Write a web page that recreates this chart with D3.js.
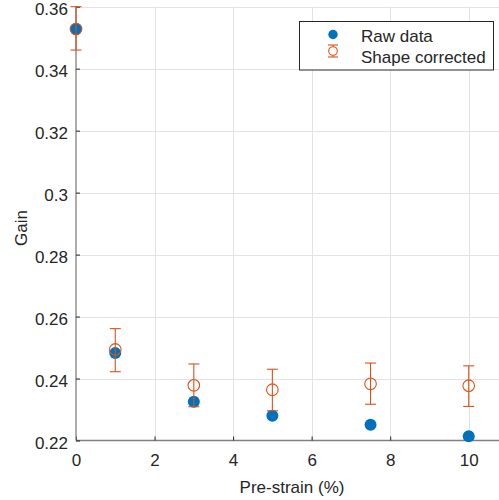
<!DOCTYPE html>
<html>
<head>
<meta charset="utf-8">
<script src="https://cdn.jsdelivr.net/npm/d3@7"></script>
<style>
html,body{margin:0;padding:0;background:#fff;}
svg{display:block;}
text{font-family:"Liberation Sans",Arial,Helvetica,sans-serif;fill:#262626;}
</style>
</head>
<body>
<svg id="chart" width="499" height="500"></svg>
<script>
const strain = [0, 1, 3, 5, 7.5, 10];
const rawGain = [0.3528, 0.2482, 0.2325, 0.2280, 0.2251, 0.2214];
const corrGain = [0.3528, 0.2494, 0.2378, 0.2364, 0.2383, 0.2377];
const corrLow = [0.3460, 0.2422, 0.2309, 0.2296, 0.2317, 0.2310];
const corrHigh = [0.3600, 0.2561, 0.2447, 0.2430, 0.2450, 0.2441];
const xTicks = [0, 2, 4, 6, 8, 10];
const yTicks = [0.22, 0.24, 0.26, 0.28, 0.30, 0.32, 0.34, 0.36];
const yTickLabels = ["0.22", "0.24", "0.26", "0.28", "0.3", "0.32", "0.34", "0.36"];
const seriesNames = ["Raw data", "Shape corrected"];

const blue = "#0072BD", orange = "#D95319";
const FS = 17;
const svg = d3.select("#chart");
const L = 76, R = 508, T = 6.7, B = 440.5;
const x = d3.scaleLinear().domain([0, 11]).range([L, R]);
const y = d3.scaleLinear().domain([0.22, 0.36]).range([B, T]);

// grid
const g = svg.append("g");
g.selectAll(".vg").data(xTicks.filter(d => d > 0)).enter().append("line")
  .attr("x1", d => Math.round(x(d)) + 0.5).attr("x2", d => Math.round(x(d)) + 0.5)
  .attr("y1", T).attr("y2", B).attr("stroke", "#e3e3e3").attr("stroke-width", 1);
g.selectAll(".hg").data(yTicks.filter(d => d > 0.22)).enter().append("line")
  .attr("x1", L).attr("x2", R)
  .attr("y1", d => Math.round(y(d)) + 0.5).attr("y2", d => Math.round(y(d)) + 0.5)
  .attr("stroke", "#e3e3e3").attr("stroke-width", 1);

// axes
const xAxis = d3.axisBottom(x).tickValues(xTicks).tickSize(-4).tickPadding(13).tickFormat(d3.format("d"));
const yAxis = d3.axisLeft(y).tickValues(yTicks).tickSize(-4).tickPadding(8).tickFormat((d, i) => yTickLabels[i]);
const xa = svg.append("g").attr("transform", `translate(0,${B})`).call(xAxis);
const ya = svg.append("g").attr("transform", `translate(${L},0)`).call(yAxis);
[xa, ya].forEach(a => {
  a.select(".domain").attr("stroke", "#808080").attr("stroke-width", 1.3);
  a.selectAll(".tick line").attr("stroke", "#262626").attr("stroke-width", 1);
  a.selectAll(".tick text").attr("font-size", FS).attr("fill", "#262626")
    .style("font-family", '"Liberation Sans",Arial,sans-serif');
});
ya.selectAll(".tick text").attr("dy", "0.48em");
ya.select(".domain").attr("d", `M0,${B}V${T}`);
xa.select(".domain").attr("d", `M${L},0H${R}`);

// labels
svg.append("text").attr("x", 292).attr("y", 492.5).attr("text-anchor", "middle")
  .attr("font-size", FS).text("Pre-strain (%)");
svg.append("text").attr("transform", "translate(27,228) rotate(-90)").attr("text-anchor", "middle")
  .attr("font-size", FS).text("Gain");

// raw data
svg.append("g").selectAll("circle").data(strain).enter().append("circle")
  .attr("cx", d => x(d)).attr("cy", (d, i) => y(rawGain[i])).attr("r", 6).attr("fill", blue);

// corrected with error bars
const eg = svg.append("g").attr("stroke", orange).attr("stroke-width", 1.1).attr("fill", "none");
strain.forEach((d, i) => {
  const cx = x(d);
  eg.append("line").attr("x1", cx).attr("x2", cx).attr("y1", y(corrLow[i])).attr("y2", y(corrHigh[i]));
  eg.append("line").attr("x1", cx - 5.5).attr("x2", cx + 5.5).attr("y1", y(corrLow[i])).attr("y2", y(corrLow[i]));
  eg.append("line").attr("x1", cx - 5.5).attr("x2", cx + 5.5).attr("y1", y(corrHigh[i])).attr("y2", y(corrHigh[i]));
  eg.append("circle").attr("cx", cx).attr("cy", y(corrGain[i])).attr("r", 5.8).attr("fill", "none");
});

// legend
const lg = svg.append("g");
lg.append("rect").attr("x", 299.5).attr("y", 21.5).attr("width", 194).attr("height", 48.5)
  .attr("fill", "#fff").attr("stroke", "#262626").attr("stroke-width", 1);
lg.append("circle").attr("cx", 333).attr("cy", 34.5).attr("r", 4.7).attr("fill", blue);
lg.append("line").attr("x1", 333).attr("x2", 333).attr("y1", 45).attr("y2", 57).attr("stroke", orange).attr("stroke-width", 1.1);
lg.append("line").attr("x1", 328).attr("x2", 338).attr("y1", 45).attr("y2", 45).attr("stroke", orange).attr("stroke-width", 1.1);
lg.append("line").attr("x1", 328).attr("x2", 338).attr("y1", 57).attr("y2", 57).attr("stroke", orange).attr("stroke-width", 1.1);
lg.append("circle").attr("cx", 333).attr("cy", 51).attr("r", 4.3).attr("fill", "#fff").attr("stroke", orange).attr("stroke-width", 1.1);
lg.append("text").attr("x", 361).attr("y", 41.7).attr("font-size", FS).text(seriesNames[0]);
lg.append("text").attr("x", 361).attr("y", 62.5).attr("font-size", FS).text(seriesNames[1]);
</script>
</body>
</html>
